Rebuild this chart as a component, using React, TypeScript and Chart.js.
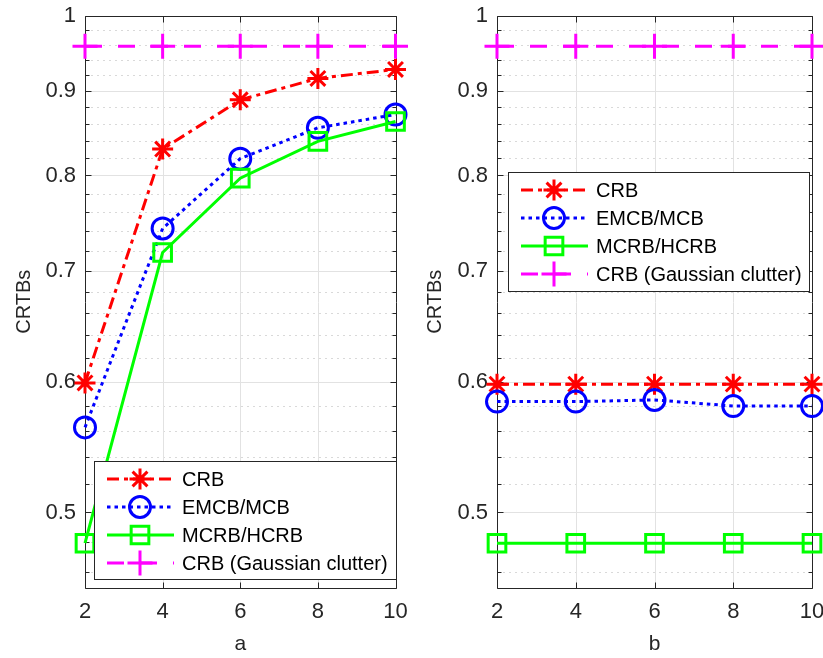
import React, { useEffect, useRef } from 'react';
import { Chart, registerables } from 'chart.js';

Chart.register(...registerables);

// ---------- data ----------
const xValues = [2, 4, 6, 8, 10];
const xTicks = [2, 4, 6, 8, 10];
const yMajorTicks = [0.5, 0.6, 0.7, 0.8, 0.9, 1];
const yMinorTicks = [
  0.46, 0.48, 0.52, 0.54, 0.56, 0.58, 0.62, 0.64, 0.66, 0.68,
  0.72, 0.74, 0.76, 0.78, 0.82, 0.84, 0.86, 0.88, 0.92, 0.94, 0.96, 0.98,
];
const seriesLabels = ['CRB', 'EMCB/MCB', 'MCRB/HCRB', 'CRB (Gaussian clutter)'];

const aCRB = [0.599, 0.83, 0.889, 0.916, 0.9275];
const aEMCB = [0.563, 0.743, 0.819, 0.855, 0.871];
const aMCRB = [0.479, 0.7185, 0.797, 0.839, 0.8626];
const aGauss = [0.958, 0.958, 0.958, 0.958, 0.958];

const bCRB = [0.598, 0.598, 0.598, 0.598, 0.598];
const bEMCB = [0.5836, 0.5836, 0.585, 0.58, 0.58];
const bMCRB = [0.479, 0.479, 0.479, 0.479, 0.479];
const bGauss = [0.958, 0.958, 0.958, 0.958, 0.958];

// ---------- styles ----------
const seriesStyles = [
  { color: '#ff0000', dash: [12, 5, 4, 5], point: 'star', r: 10.5 },
  { color: '#0000ff', dash: [3.5, 4], point: 'circle', r: 10.5 },
  { color: '#00ff00', dash: [] as number[], point: 'rect', r: 12.5 },
  { color: '#ff00ff', dash: [17, 16], point: 'cross', r: 12.5 },
];

const FONT = '"Liberation Sans", Arial, Helvetica, sans-serif';
const AXIS_COLOR = '#262626';
const TRANSPARENT = 'rgba(0,0,0,0)';

function drawMarker(ctx: CanvasRenderingContext2D, style: string, x: number, y: number, r: number) {
  ctx.beginPath();
  if (style === 'circle') {
    ctx.arc(x, y, r, 0, Math.PI * 2);
  } else if (style === 'rect') {
    const s = r * Math.SQRT1_2;
    ctx.rect(x - s, y - s, 2 * s, 2 * s);
  } else if (style === 'cross') {
    ctx.moveTo(x, y - r); ctx.lineTo(x, y + r);
    ctx.moveTo(x - r, y); ctx.lineTo(x + r, y);
  } else if (style === 'star') {
    const d = r * Math.SQRT1_2;
    ctx.moveTo(x, y - r); ctx.lineTo(x, y + r);
    ctx.moveTo(x - r, y); ctx.lineTo(x + r, y);
    ctx.moveTo(x - d, y - d); ctx.lineTo(x + d, y + d);
    ctx.moveTo(x - d, y + d); ctx.lineTo(x + d, y - d);
  }
  ctx.stroke();
}

const snap = (v: number) => Math.round(v) + 0.5;

const axesPlugin = {
  id: 'matlabAxes',
  beforeDatasetsDraw(chart: any) {
    const { ctx, chartArea: a } = chart;
    const x = chart.scales.x;
    const y = chart.scales.y;
    const L = snap(a.left), R = snap(a.right), T = snap(a.top), B = snap(a.bottom);
    ctx.save();
    ctx.lineWidth = 1;
    // minor dotted grid
    ctx.strokeStyle = 'rgba(0,0,0,0.3)';
    ctx.setLineDash([1, 5]);
    yMinorTicks.forEach((v) => {
      const p = snap(y.getPixelForValue(v));
      ctx.beginPath(); ctx.moveTo(L, p); ctx.lineTo(R, p); ctx.stroke();
    });
    // major grid
    ctx.setLineDash([]);
    ctx.strokeStyle = '#e2e2e2';
    yMajorTicks.forEach((v) => {
      const p = snap(y.getPixelForValue(v));
      ctx.beginPath(); ctx.moveTo(L, p); ctx.lineTo(R, p); ctx.stroke();
    });
    xTicks.forEach((v) => {
      const p = snap(x.getPixelForValue(v));
      ctx.beginPath(); ctx.moveTo(p, T); ctx.lineTo(p, B); ctx.stroke();
    });
    // box
    ctx.strokeStyle = AXIS_COLOR;
    ctx.beginPath();
    ctx.moveTo(L, T); ctx.lineTo(R, T); ctx.lineTo(R, B); ctx.lineTo(L, B); ctx.closePath();
    ctx.stroke();
    // ticks
    ctx.beginPath();
    yMajorTicks.forEach((v) => {
      const p = snap(y.getPixelForValue(v));
      ctx.moveTo(L, p); ctx.lineTo(L + 6, p);
      ctx.moveTo(R, p); ctx.lineTo(R - 6, p);
    });
    yMinorTicks.forEach((v) => {
      const p = snap(y.getPixelForValue(v));
      ctx.moveTo(L, p); ctx.lineTo(L + 4, p);
      ctx.moveTo(R, p); ctx.lineTo(R - 4, p);
    });
    xTicks.forEach((v) => {
      const p = snap(x.getPixelForValue(v));
      ctx.moveTo(p, B); ctx.lineTo(p, B - 6);
      ctx.moveTo(p, T); ctx.lineTo(p, T + 6);
    });
    ctx.stroke();
    ctx.restore();
  },
};

const legendPlugin = {
  id: 'matlabLegend',
  afterDraw(chart: any, _args: any, opts: any) {
    const { ctx } = chart;
    const { x, y, w, h } = opts;
    ctx.save();
    ctx.fillStyle = '#ffffff';
    ctx.fillRect(x, y, w, h);
    ctx.strokeStyle = AXIS_COLOR;
    ctx.lineWidth = 1;
    ctx.setLineDash([]);
    ctx.strokeRect(snap(x), snap(y), Math.round(w), Math.round(h));
    const rowOffsets = [18, 46, 74, 102];
    chart.data.datasets.forEach((ds: any, i: number) => {
      const ry = y + rowOffsets[i];
      ctx.strokeStyle = ds.borderColor;
      ctx.lineWidth = 3;
      ctx.lineCap = 'butt';
      ctx.setLineDash(ds.borderDash || []);
      ctx.beginPath();
      ctx.moveTo(x + 13, ry);
      ctx.lineTo(x + 80, ry);
      ctx.stroke();
      ctx.setLineDash([]);
      drawMarker(ctx, ds.pointStyle, x + 46, ry, ds.pointRadius);
      ctx.fillStyle = '#000000';
      ctx.font = `20px ${FONT}`;
      ctx.textBaseline = 'middle';
      ctx.textAlign = 'left';
      ctx.fillText(ds.label, x + 88, ry + 1);
    });
    ctx.restore();
  },
};

type PanelProps = {
  left: number;
  width: number;
  yAxisWidth: number;
  padRight: number;
  xTitle: string;
  series: number[][];
  legendBox: { x: number; y: number; w: number; h: number };
};

function Panel({ left, width, yAxisWidth, padRight, xTitle, series, legendBox }: PanelProps) {
  const ref = useRef<HTMLCanvasElement>(null);
  useEffect(() => {
    if (!ref.current) return;
    const datasets = series.map((vals, i) => {
      const st = seriesStyles[i];
      return {
        label: seriesLabels[i],
        data: vals.map((v, j) => ({ x: xValues[j], y: v })),
        borderColor: st.color,
        backgroundColor: TRANSPARENT,
        borderWidth: 3,
        borderDash: st.dash,
        pointStyle: st.point,
        pointRadius: st.r,
        pointBorderWidth: 3,
        pointBorderColor: st.color,
        pointBackgroundColor: TRANSPARENT,
        fill: false,
        tension: 0,
        clip: false as any,
        order: 3 - i,
      };
    });
    const chart = new Chart(ref.current, {
      type: 'line',
      data: { datasets },
      options: {
        responsive: false,
        animation: false,
        devicePixelRatio: 1,
        layout: { padding: { left: 0, top: 15, right: padRight, bottom: 0 } },
        plugins: {
          legend: { display: false },
          tooltip: { enabled: false },
          matlabLegend: legendBox,
        } as any,
        scales: {
          x: {
            type: 'linear',
            min: 2,
            max: 10,
            afterBuildTicks: (s: any) => { s.ticks = xTicks.map((v) => ({ value: v })); },
            afterFit: (s: any) => { s.height = 70; },
            ticks: {
              font: { size: 22, family: FONT },
              color: AXIS_COLOR,
              padding: 0,
              maxRotation: 0,
              autoSkip: false,
              callback: (v: any) => String(v),
            },
            grid: {
              display: true,
              drawOnChartArea: false,
              drawTicks: true,
              tickLength: 11,
              color: TRANSPARENT,
              tickColor: TRANSPARENT,
            },
            border: { display: false },
            title: {
              display: true,
              text: xTitle,
              font: { size: 21, family: FONT },
              color: AXIS_COLOR,
              padding: { top: 0, bottom: 1 },
            },
          },
          y: {
            type: 'logarithmic',
            min: 0.45,
            max: 1,
            afterBuildTicks: (s: any) => { s.ticks = yMajorTicks.map((v) => ({ value: v })); },
            afterFit: (s: any) => { s.width = yAxisWidth; },
            ticks: {
              font: { size: 22, family: FONT },
              color: AXIS_COLOR,
              padding: 0,
              autoSkip: false,
              callback: (v: any) => String(v),
            },
            grid: {
              display: true,
              drawOnChartArea: false,
              drawTicks: true,
              tickLength: 9,
              color: TRANSPARENT,
              tickColor: TRANSPARENT,
            },
            border: { display: false },
            title: {
              display: true,
              text: 'CRTBs',
              font: { size: 20, family: FONT },
              color: AXIS_COLOR,
              padding: { top: 12, bottom: 0 },
            },
          },
        } as any,
      },
      plugins: [axesPlugin, legendPlugin],
    });
    return () => chart.destroy();
  }, []);
  return (
    <canvas
      ref={ref}
      width={width}
      height={658}
      style={{ position: 'absolute', left, top: 0, width, height: 658 }}
    />
  );
}

export default function App() {
  return (
    <div
      style={{
        position: 'fixed',
        left: 0,
        top: 0,
        width: 823,
        height: 658,
        overflow: 'hidden',
        background: '#ffffff',
      }}
    >
      <Panel
        left={0}
        width={411}
        yAxisWidth={85}
        padRight={13}
        xTitle="a"
        series={[aCRB, aEMCB, aMCRB, aGauss]}
        legendBox={{ x: 94, y: 461, w: 302, h: 118 }}
      />
      <Panel
        left={411}
        width={430}
        yAxisWidth={86}
        padRight={29}
        xTitle="b"
        series={[bCRB, bEMCB, bMCRB, bGauss]}
        legendBox={{ x: 97, y: 172, w: 301, h: 119 }}
      />
    </div>
  );
}
